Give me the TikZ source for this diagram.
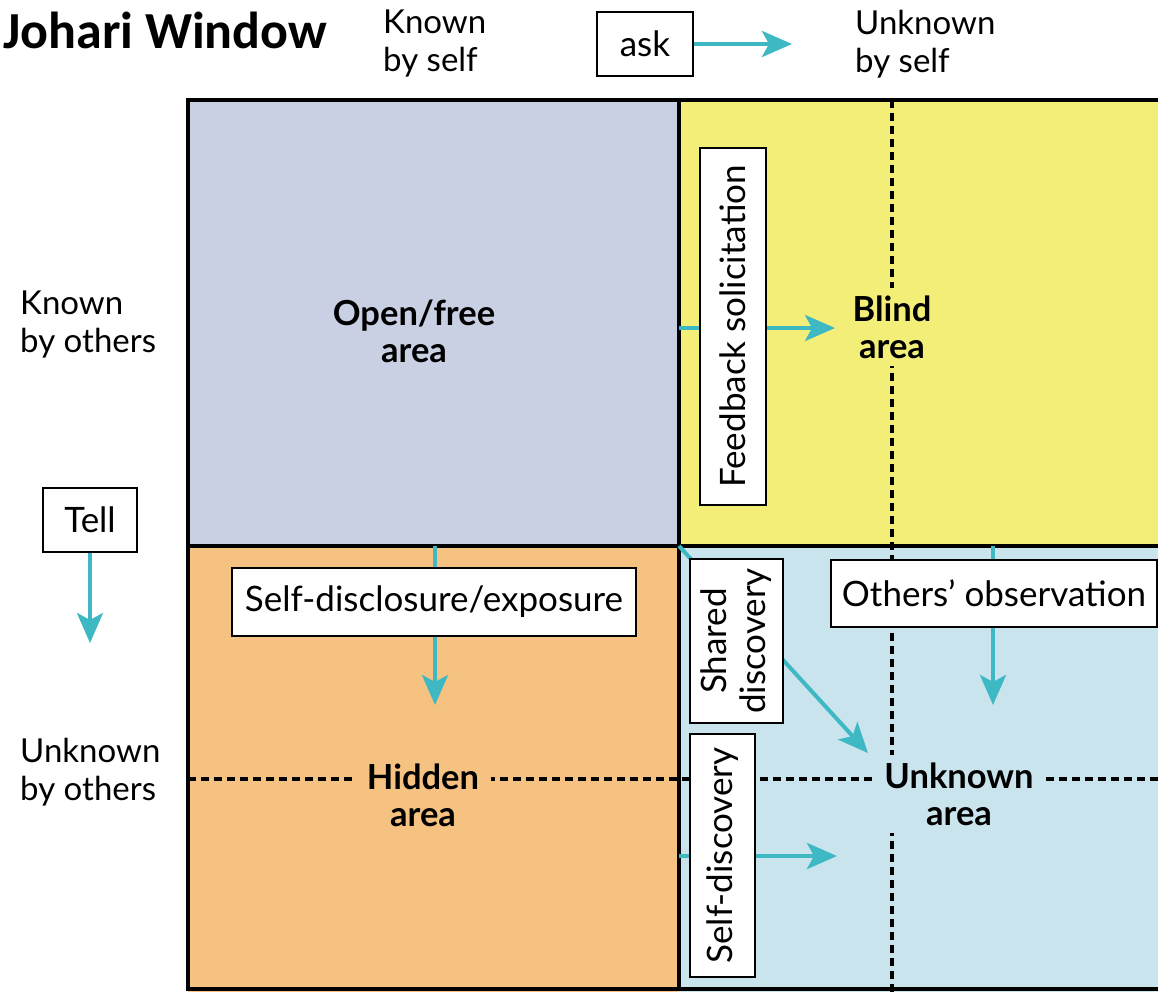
\documentclass[tikz,border=0pt]{standalone}
\usepackage{fontspec}
\setmainfont{Lato}
\newfontfamily\titlefont{Carlito}
\usetikzlibrary{arrows.meta}
\definecolor{openc}{HTML}{C9D0E3}
\definecolor{blindc}{HTML}{F3EE78}
\definecolor{hiddenc}{HTML}{F5C282}
\definecolor{unknc}{HTML}{CAE4EE}
\definecolor{flowc}{HTML}{3EB9C4}
\tikzset{
  sidelbl/.style={font=\fontsize{33}{38}\selectfont, align=left, inner sep=0pt, anchor=west},
  boxlbl/.style={draw=black, line width=2pt, fill=white, inner sep=0pt,
                 font=\fontsize{35}{39}\selectfont, align=center},
  arealbl/.style={font=\bfseries\fontsize{34.5}{37}\selectfont, align=center, inner xsep=12pt, inner ysep=8pt},
  flow/.style={draw=flowc, line width=4pt, -{Stealth[length=30pt, width=26pt, inset=7pt]}},
  split/.style={draw=black, line width=3.5pt, dash pattern=on 8pt off 5pt},
  frame/.style={draw=black, line width=4pt},
}
\begin{document}
\begin{tikzpicture}[x=1pt, y=-1pt]
\useasboundingbox (0,0) rectangle (1158,991);
\clip (0,0) rectangle (1158,991);
\fill[white] (0,0) rectangle (1158,991);

% quadrants
\fill[openc]   (188,100) rectangle (679,546);
\fill[blindc]  (679,100) rectangle (1170,546);
\fill[hiddenc] (188,546) rectangle (679,995);
\fill[unknc]   (679,546) rectangle (1170,995);

% dashed split lines
\coordinate (vtop) at (892,100);
\coordinate (vbot) at (892,995);
\coordinate (hleft) at (188,779);
\coordinate (hright) at (1170,779);
\draw[split] (vtop) -- (vbot);
\draw[split] (hleft) -- (hright);

% area labels (fill masks the dashed lines)
\node[arealbl, fill=openc]   (open)    at (414,331) {Open/free\\area};
\node[arealbl, fill=blindc]  (blind)   at (892,327) {Blind\\area};
\node[arealbl, fill=hiddenc] (hidden)  at (423,795) {Hidden\\area};
\node[arealbl, fill=unknc]   (unknown) at (959,794) {Unknown\\area};

% frame
\draw[frame] (188,100) rectangle (1170,989);
\draw[frame] (679,100) -- (679,989);
\draw[frame] (188,546) -- (1170,546);

% outside labels
\node[anchor=base west, inner sep=0pt, font=\titlefont\bfseries\fontsize{52}{52}\selectfont] (title) at (3,48) {Johari Window};
\node[sidelbl] (kself)   at (383,44)  {Known\\by self};
\node[sidelbl] (uself)   at (855,44)  {Unknown\\by self};
\node[sidelbl] (kothers) at (20,325)  {Known\\by others};
\node[sidelbl] (uothers) at (20,772)  {Unknown\\by others};

% arrow coordinates
\coordinate (askend)  at (792,44);
\coordinate (tellend) at (90,643);
\coordinate (fbs) at (679,328);   \coordinate (fbe) at (835,328);
\coordinate (sds) at (435,546);   \coordinate (sde) at (435,705);
\coordinate (oos) at (993,546);   \coordinate (ooe) at (993,705);
\coordinate (shs) at (679,546);   \coordinate (she) at (868,753);
\coordinate (sfs) at (679,856);   \coordinate (sfe) at (837,856);

% arrows behind boxes
\draw[flow] (fbs) -- (fbe);
\draw[flow] (sds) -- (sde);
\draw[flow] (oos) -- (ooe);
\draw[flow] (shs) -- (she);
\draw[flow] (sfs) -- (sfe);

% boxes
\node[boxlbl, minimum width=96pt, minimum height=64pt] (ask) at (645,44) {ask};
\node[boxlbl, minimum width=94pt, minimum height=64pt] (tell) at (90,519.5) {Tell};
\node[boxlbl, minimum width=404pt, minimum height=68pt] (selfdis) at (434,602) {Self-disclosure/exposure};
\node[boxlbl, minimum width=326pt, minimum height=67pt] (others) at (994,593.5) {Others’ observation};
\node[boxlbl, rotate=90, minimum width=357pt, minimum height=66pt] (feedback) at (733,326.5) {Feedback solicitation};
\node[boxlbl, rotate=90, minimum width=164pt, minimum height=93pt] (shared) at (736.5,641) {Shared\\discovery};
\node[boxlbl, rotate=90, minimum width=243pt, minimum height=65pt] (selfdisc) at (722.5,855.5) {Self-discovery};

\draw[flow] (ask.east) -- (askend);
\draw[flow] (tell.south) -- (tellend);
\end{tikzpicture}
\end{document}
